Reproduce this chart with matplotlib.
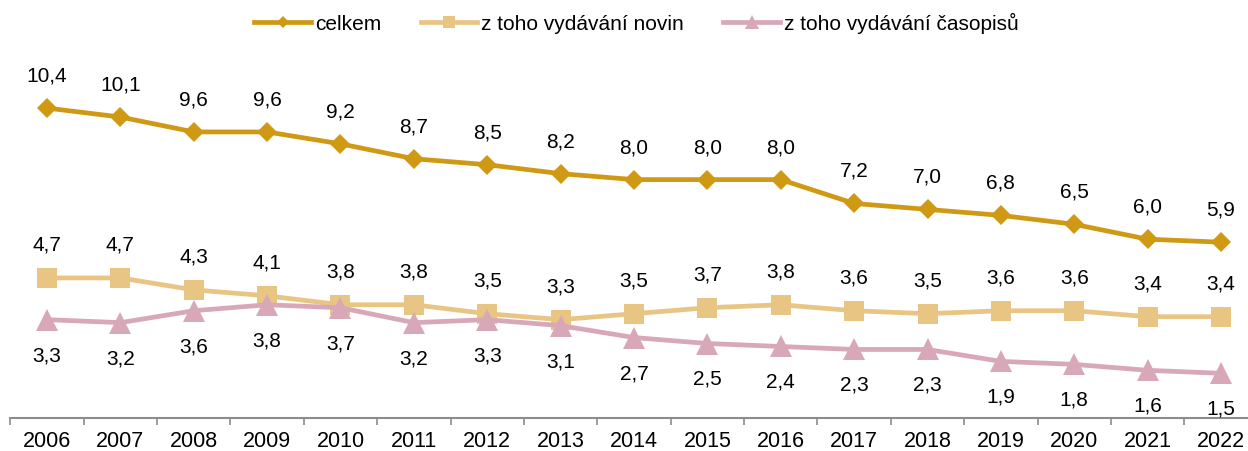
import numpy as np
import matplotlib
matplotlib.use('Agg')
import matplotlib.pyplot as plt

plt.rcParams['font.family'] = ['Liberation Sans', 'DejaVu Sans']

years = [str(y) for y in range(2006, 2023)]
celkem = [10.4, 10.1, 9.6, 9.6, 9.2, 8.7, 8.5, 8.2, 8.0, 8.0, 8.0, 7.2, 7.0, 6.8, 6.5, 6.0, 5.9]
noviny = [4.7, 4.7, 4.3, 4.1, 3.8, 3.8, 3.5, 3.3, 3.5, 3.7, 3.8, 3.6, 3.5, 3.6, 3.6, 3.4, 3.4]
casopisy = [3.3, 3.2, 3.6, 3.8, 3.7, 3.2, 3.3, 3.1, 2.7, 2.5, 2.4, 2.3, 2.3, 1.9, 1.8, 1.6, 1.5]

# name, values, colour, marker, marker size, label offset (px)
series = [
    ('celkem', celkem, '#D09914', 'D', 10, 33),
    ('z toho vydávání novin', noviny, '#E8C583', 's', 15, 34),
    ('z toho vydávání časopisů', casopisy, '#D8A7B8', '^', 16, -35),
]

fig = plt.figure(figsize=(12.48, 4.52), dpi=100)
ax = fig.add_axes([10.3 / 1248, 33 / 452, 1247.4 / 1248, 357.6 / 452])

x = np.arange(len(years))
for name, vals, col, mk, ms, off in series:
    ax.plot(x, vals, color=col, lw=3.4, marker=mk, markersize=ms,
            markeredgewidth=0, label=name, zorder=3 if mk == 'D' else 2)
    for xi, v in zip(x, vals):
        ax.annotate(f'{v:.1f}'.replace('.', ','), (xi, v), xytext=(0, off),
                    textcoords='offset pixels', ha='center', va='center',
                    fontsize=15, color='black')

ax.set_xlim(-0.5, len(years) - 0.5)
ax.set_ylim(0, 12)
ax.set_yticks([])
ax.set_xticks(x)
ax.set_xticklabels(years, fontsize=15.5)
ax.set_xticks(np.arange(-0.5, len(years)), minor=True)
ax.tick_params(axis='x', which='major', length=0, pad=9)
ax.tick_params(axis='x', which='minor', length=5, width=1.2, color='#8c8c8c')
for s in ['top', 'right', 'left']:
    ax.spines[s].set_visible(False)
ax.spines['bottom'].set_color('#8c8c8c')
ax.spines['bottom'].set_linewidth(1.5)

fig.legend(loc='center', bbox_to_anchor=(0.51, 0.947), ncol=3, frameon=False,
           fontsize=15, handlelength=2.7, handletextpad=0.2, columnspacing=1.9,
           markerscale=0.6)

fig.savefig('out.png', dpi=100)
